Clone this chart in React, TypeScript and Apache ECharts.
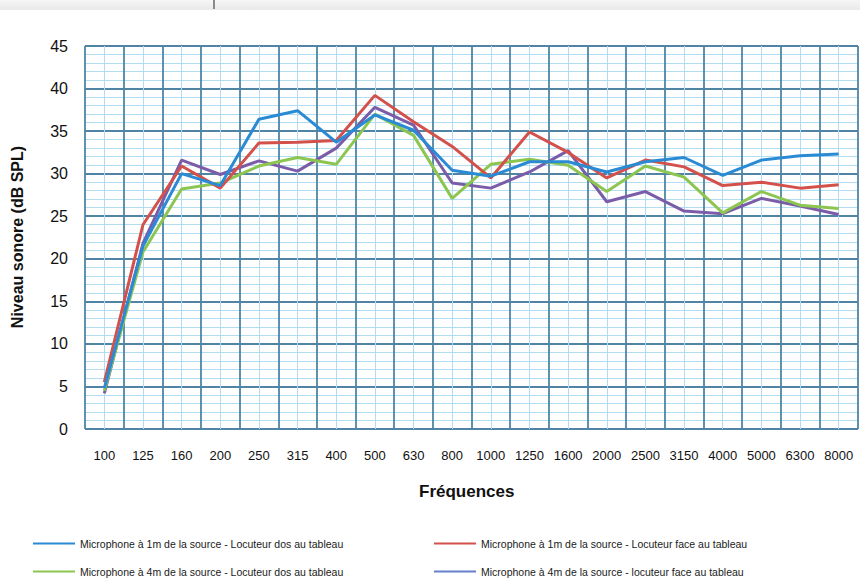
import React, { useEffect, useRef } from "react";
import * as echarts from "echarts";

const categories = ["100", "125", "160", "200", "250", "315", "400", "500", "630", "800", "1000", "1250", "1600", "2000", "2500", "3150", "4000", "5000", "6300", "8000"];
const yTicks = [0, 5, 10, 15, 20, 25, 30, 35, 40, 45];

const name1mDos = "Microphone à 1m de la source - Locuteur dos au tableau";
const name1mFace = "Microphone à 1m de la source - Locuteur face au tableau";
const name4mDos = "Microphone à 4m de la source - Locuteur dos au tableau";
const name4mFace = "Microphone à 4m de la source - locuteur face au tableau";

const mic1mDos = [4.8, 21.5, 30.0, 28.6, 36.4, 37.4, 33.7, 36.9, 35.1, 30.4, 29.7, 31.4, 31.4, 30.2, 31.4, 31.9, 29.8, 31.6, 32.1, 32.3];
const mic1mFace = [5.5, 24.0, 30.9, 28.3, 33.6, 33.7, 33.9, 39.2, 36.1, 33.2, 29.5, 34.9, 32.5, 29.5, 31.6, 30.8, 28.6, 29.0, 28.3, 28.7];
const mic4mDos = [4.5, 20.8, 28.2, 28.9, 30.9, 31.9, 31.1, 37.0, 34.5, 27.1, 31.1, 31.7, 31.0, 27.9, 30.9, 29.6, 25.4, 27.9, 26.3, 25.9];
const mic4mFace = [4.2, 21.8, 31.6, 29.9, 31.5, 30.3, 33.0, 37.8, 35.7, 28.9, 28.3, 30.2, 32.7, 26.7, 27.9, 25.6, 25.3, 27.1, 26.2, 25.2];

const colors = ["#2a8bd4", "#d4504b", "#8cc650", "#7a5ca8"];

export default function App() {
  const ref = useRef<HTMLDivElement>(null);
  useEffect(() => {
    if (!ref.current) return;
    const chart = echarts.init(ref.current, null, { renderer: "svg" });
    const font = "'Liberation Sans', Arial, sans-serif";
    const mkLegend = (name: string, color: string, left: number, top: number) => ({
      orient: "horizontal",
      left,
      top,
      itemWidth: 42,
      itemHeight: 2,
      itemGap: 5,
      padding: 0,
      textStyle: { fontFamily: font, fontSize: 10.5, color: "#1a1a1a" },
      data: [{ name, icon: "rect", itemStyle: { color } }],
    });
    const majorLine = { color: "#4f84a4", width: 1.8 };
    const minorLine = { color: "#b2dcf1", width: 1 };
    chart.setOption({
      animation: false,
      backgroundColor: "#ffffff",
      color: colors,
      textStyle: { fontFamily: font },
      grid: { left: 85, right: 2, top: 46, bottom: 158, containLabel: false },
      legend: [
        mkLegend(name1mDos, colors[0], 33, 538),
        mkLegend(name1mFace, colors[1], 434, 538),
        mkLegend(name4mDos, colors[2], 33, 566),
        mkLegend(name4mFace, "#6680cc", 434, 566),
      ],
      xAxis: [
        {
          type: "category",
          data: categories,
          boundaryGap: true,
          axisLine: { show: false },
          axisTick: { show: false },
          splitLine: { show: false },
          axisLabel: { fontSize: 13, color: "#111", margin: 20, interval: 0, fontFamily: font },
        },
        {
          type: "value",
          position: "top",
          min: 0,
          max: categories.length,
          interval: 1,
          axisLine: { show: false },
          axisTick: { show: false },
          axisLabel: { show: false },
          splitLine: { show: true, lineStyle: majorLine },
          minorTick: { show: true, splitNumber: 2, length: 0, lineStyle: { width: 0 } },
          minorSplitLine: { show: true, lineStyle: minorLine },
        },
      ],
      yAxis: {
        type: "value",
        min: yTicks[0],
        max: yTicks[yTicks.length - 1],
        interval: 5,
        axisLine: { show: false },
        axisTick: { show: false },
        axisLabel: { fontSize: 16, color: "#111", margin: 17, fontFamily: font },
        splitLine: { show: true, lineStyle: majorLine },
        minorTick: { show: false, splitNumber: 5 },
        minorSplitLine: { show: true, lineStyle: minorLine },
      },
      series: [
        { name: name1mDos, data: mic1mDos },
        { name: name1mFace, data: mic1mFace },
        { name: name4mDos, data: mic4mDos },
        { name: name4mFace, data: mic4mFace },
      ].map((s, i) => ({
        ...s,
        type: "line",
        xAxisIndex: 0,
        symbol: "none",
        showSymbol: false,
        z: 10 - i,
        lineStyle: { width: 3, color: colors[i] },
        itemStyle: { color: colors[i] },
      })),
      graphic: [
        {
          type: "rect",
          shape: { x: 0, y: 0, width: 860, height: 10 },
          style: {
            fill: new echarts.graphic.LinearGradient(0, 0, 0, 1, [
              { offset: 0, color: "#f6f6f6" },
              { offset: 1, color: "#e9e9e9" },
            ]),
          },
        },
        {
          type: "line",
          shape: { x1: 214, y1: 0, x2: 214, y2: 9 },
          style: { stroke: "#8a8a8a", lineWidth: 2 },
        },
        {
          type: "text",
          left: 419,
          top: 483,
          style: { text: "Fréquences", font: `bold 17px ${font}`, fill: "#111" },
        },
        {
          type: "text",
          x: 17,
          y: 237,
          rotation: Math.PI / 2,
          style: {
            text: "Niveau sonore (dB SPL)",
            font: `bold 16px ${font}`,
            fill: "#111",
            align: "center",
            verticalAlign: "middle",
          },
        },
      ],
    });
    return () => chart.dispose();
  }, []);
  return (
    <div
      ref={ref}
      style={{ position: "fixed", left: 0, top: 0, width: 860, height: 587 }}
    />
  );
}
